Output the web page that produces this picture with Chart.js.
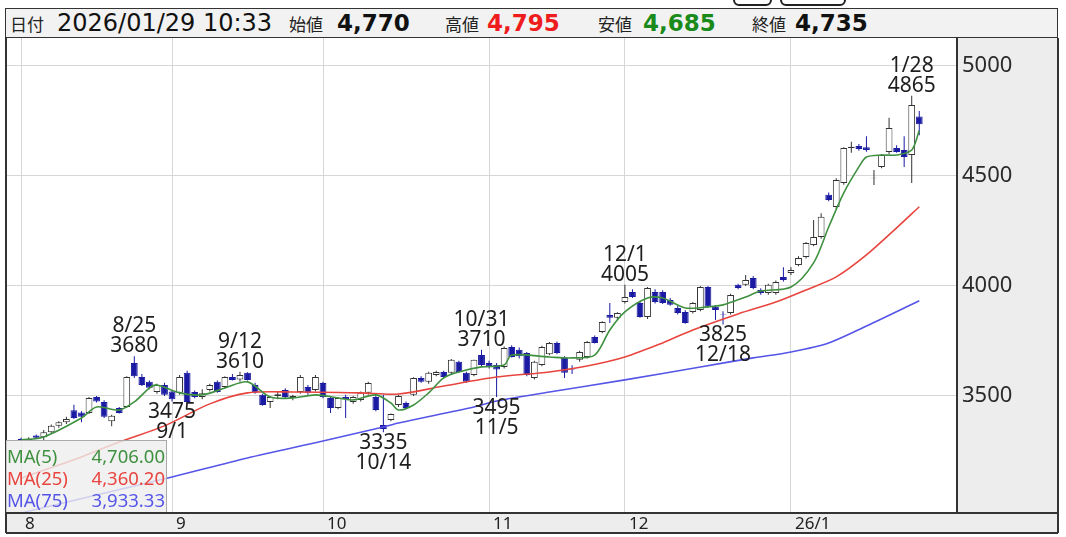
<!DOCTYPE html>
<html>
<head>
<meta charset="utf-8">
<script src="https://cdn.jsdelivr.net/npm/chart.js@4.4.1/dist/chart.umd.min.js"></script>
<style>
body { margin: 0; background: #fff; width: 1066px; height: 537px; overflow: hidden; position: relative; font-family: "Noto Sans", sans-serif; }
#chart { position: absolute; left: 0; top: 0; }
#hdr { position: absolute; left: 5px; top: 8px; width: 1051px; height: 28px; border: 1.5px solid #333; background: #f2f2f2; }
#hdr span { position: absolute; top: 0; line-height: 29px; white-space: nowrap; }
#hdr .k { font-family: "Noto Sans CJK JP", sans-serif; font-size: 17px; color: #222; }
#hdr .n { font-family: "DejaVu Sans", sans-serif; font-size: 24px; color: #111; }
#hdr .b { font-family: "DejaVu Sans", sans-serif; font-size: 23px; font-weight: bold; }
.tab { position: absolute; top: -9px; height: 11px; border: 2px solid #222; border-radius: 6px; background: #fff; }
#leg { position: absolute; left: 6px; top: 440px; width: 161px; height: 72px; padding-top: 4px; box-sizing: border-box; background: rgba(238,238,238,0.8); border-top: 1px solid #aaa; border-right: 1px solid #aaa; font-size: 18.5px; }
#leg div { position: relative; height: 22px; line-height: 22px; }
#leg .nm { position: absolute; left: 1px; }
#leg .vl { position: absolute; right: 1px; }
</style>
</head>
<body>
<canvas id="chart" width="1066" height="537"></canvas>
<div class="tab" style="left:733px;width:35px"></div>
<div class="tab" style="left:780px;width:62px"></div>
<div id="hdr">
  <span class="k" style="left:4px">日付</span>
  <span class="n" style="left:51px">2026/01/29 10:33</span>
  <span class="k" style="left:283px">始値</span>
  <span class="b" style="left:331px;color:#111">4,770</span>
  <span class="k" style="left:439px">高値</span>
  <span class="b" style="left:481px;color:#ee1c1c">4,795</span>
  <span class="k" style="left:592px">安値</span>
  <span class="b" style="left:637px;color:#1a8a1a">4,685</span>
  <span class="k" style="left:746px">終値</span>
  <span class="b" style="left:789px;color:#111">4,735</span>
</div>
<div id="leg"></div>
<script>
// 取引日 (2025/8 〜 2026/1)
const months = ['8', '9', '10', '11', '12', '1'];
const augDays = [1, 4, 5, 6, 7, 8, 12, 13, 14, 15, 18, 19, 20, 21, 22, 25, 26, 27, 28, 29];
const sepDays = [1, 2, 3, 4, 5, 8, 9, 10, 11, 12, 16, 17, 18, 19, 22, 24, 25, 26, 29, 30];
const octDays = [1, 2, 3, 6, 7, 8, 9, 10, 14, 15, 16, 17, 20, 21, 22, 23, 24, 27, 28, 29, 30, 31];
const novDays = [4, 5, 6, 7, 10, 11, 12, 13, 14, 17, 18, 19, 20, 21, 25, 26, 27, 28];
const decDays = [1, 2, 3, 4, 5, 8, 9, 10, 11, 12, 15, 16, 17, 18, 19, 22, 23, 24, 25, 26, 29, 30];
const janDays = [5, 6, 7, 8, 9, 13, 14, 15, 16, 19, 20, 21, 22, 23, 26, 27, 28, 29];
const monthTicks = ['8', '9', '10', '11', '12', '26/1'];
const padBefore = ['7/30', '7/31'];
const padAfter = ['1/30', '2/2', '2/3', '2/4', '2/5'];

const opens = [
  3305, 3300, 3320, 3312, 3335, 3365, 3380, 3435, 3425, 3423, 3495, 3473, 3385, 3445, 3450, 3650, 3586, 3564, 3518, 3550,
  3520, 3514, 3605, 3518, 3495, 3527, 3564, 3541, 3586, 3575, 3605, 3550, 3505, 3473, 3500, 3527, 3491, 3518, 3541, 3527,
  3559, 3491, 3445, 3495, 3473, 3482, 3514, 3495, 3368, 3391, 3459, 3468, 3505, 3582, 3564, 3595, 3609, 3605, 3655, 3605, 3595, 3686,
  3650, 3641, 3632, 3723, 3710, 3695, 3582, 3641, 3690, 3741, 3673, 3625, 3664, 3677, 3768, 3791, 3868, 3855,
  3927, 3973, 3923, 3859, 3973, 3973, 3936, 3900, 3882, 3882, 3891, 3995, 3905, 3873, 3877, 4005, 4005, 4036, 3982, 3968, 3968, 4041,
  4059, 4095, 4132, 4186, 4223, 4414, 4359, 4468, 4627, 4636, 4630, 4490, 4541, 4609, 4627, 4618, 4595, 4770
];
const highs = [
  3310, 3312, 3325, 3345, 3370, 3385, 3405, 3460, 3430, 3495, 3500, 3480, 3415, 3450, 3590, 3680, 3600, 3570, 3555, 3560,
  3525, 3595, 3615, 3525, 3530, 3555, 3570, 3590, 3600, 3610, 3608, 3560, 3510, 3500, 3520, 3535, 3505, 3595, 3550, 3595,
  3565, 3495, 3495, 3505, 3500, 3520, 3565, 3505, 3505, 3420, 3505, 3475, 3585, 3590, 3610, 3615, 3615, 3668, 3660, 3610, 3665, 3710,
  3660, 3650, 3725, 3730, 3720, 3700, 3660, 3728, 3745, 3748, 3680, 3640, 3705, 3750, 3775, 3840, 3923, 3880,
  4005, 3985, 3930, 3995, 3985, 3980, 3945, 3910, 3890, 3927, 4000, 4000, 3912, 3885, 3965, 4010, 4050, 4045, 3990, 4010, 4025, 4085,
  4085, 4135, 4200, 4300, 4330, 4425, 4490, 4630, 4655, 4645, 4680, 4527, 4600, 4764, 4640, 4680, 4865, 4795
];
const lows = [
  3298, 3295, 3305, 3300, 3330, 3355, 3372, 3395, 3380, 3418, 3470, 3400, 3362, 3420, 3445, 3582, 3545, 3530, 3510, 3500,
  3475, 3505, 3470, 3490, 3485, 3520, 3515, 3535, 3570, 3565, 3570, 3510, 3455, 3445, 3485, 3490, 3480, 3510, 3505, 3520,
  3490, 3423, 3440, 3400, 3465, 3475, 3505, 3430, 3335, 3385, 3450, 3440, 3500, 3560, 3555, 3590, 3580, 3600, 3605, 3560, 3590, 3635,
  3625, 3495, 3625, 3675, 3670, 3590, 3575, 3635, 3685, 3690, 3582, 3600, 3655, 3670, 3738, 3785, 3832, 3845,
  3920, 3945, 3855, 3850, 3920, 3918, 3910, 3870, 3828, 3875, 3885, 3900, 3845, 3825, 3870, 3985, 4000, 3985, 3960, 3960, 3960, 4020,
  4050, 4090, 4125, 4180, 4215, 4385, 4350, 4460, 4605, 4615, 4610, 4459, 4535, 4600, 4605, 4541, 4468, 4685
];
const closes = [
  3300, 3305, 3310, 3335, 3365, 3380, 3395, 3400, 3405, 3491, 3475, 3405, 3410, 3423, 3586, 3590, 3550, 3537, 3550, 3505,
  3485, 3586, 3473, 3495, 3512, 3550, 3518, 3586, 3573, 3595, 3573, 3514, 3459, 3495, 3508, 3495, 3500, 3586, 3514, 3586,
  3495, 3445, 3491, 3485, 3495, 3514, 3559, 3436, 3350, 3418, 3500, 3445, 3582, 3565, 3605, 3609, 3586, 3664, 3609, 3564, 3664, 3641,
  3635, 3620, 3718, 3677, 3680, 3595, 3655, 3723, 3741, 3695, 3605, 3620, 3700, 3745, 3741, 3836, 3855, 3877,
  3950, 3950, 3859, 3991, 3927, 3923, 3914, 3877, 3832, 3923, 3995, 3905, 3891, 3870, 3959, 3991, 4027, 3991, 3968, 4005, 4018, 4027,
  4073, 4127, 4195, 4223, 4314, 4391, 4482, 4627, 4633, 4622, 4618, 4492, 4595, 4718, 4609, 4586, 4823, 4735
];

// 移動平均 (取引日番号, 値) 画面から読み取り
const ma5 = [[0, 3300], [3, 3314], [8, 3400], [10, 3450], [13, 3436], [15, 3473], [17, 3536], [18, 3550], [21, 3514], [24, 3505],
  [27, 3536], [30, 3564], [33, 3495], [36, 3491], [39, 3505], [42, 3491], [44, 3482], [47, 3505], [49, 3468], [50, 3436],
  [52, 3459], [54, 3514], [56, 3582], [58, 3609], [61, 3632], [64, 3641], [65, 3686], [70, 3677], [73, 3673], [76, 3686],
  [78, 3800], [80, 3882], [83, 3945], [85, 3945], [88, 3900], [91, 3905], [93, 3914], [96, 3950], [98, 3977], [102, 3995],
  [105, 4105], [107, 4268], [109, 4423], [111, 4541], [112, 4586], [114, 4595], [116, 4595], [118, 4618], [119, 4706]];
const ma25 = [[0, 3127], [8, 3223], [13, 3291], [19, 3364], [25, 3464], [30, 3514], [36, 3518], [45, 3514], [50, 3509],
  [56, 3545], [63, 3586], [70, 3609], [75, 3636], [80, 3677], [85, 3741], [89, 3800], [95, 3873], [100, 3927], [104, 3982],
  [108, 4041], [112, 4141], [116, 4264], [119, 4360]];
const ma75 = [[0, 2968], [10, 3050], [20, 3132], [30, 3218], [40, 3295], [48, 3359], [50, 3377], [60, 3450], [63, 3477],
  [70, 3518], [80, 3573], [90, 3632], [97, 3673], [102, 3700], [107, 3741], [112, 3818], [119, 3933]];
const maNames = ['MA(5)', 'MA(25)', 'MA(75)'];
const maLast = ['4,706.00', '4,360.20', '3,933.33'];
const maColors = ['#3f9140', '#e8453f', '#5555e8'];

const yTicks = [3500, 4000, 4500, 5000];
const highMarks = ['8/25', '9/12', '10/31', '12/1', '1/28'];
const lowMarks = ['9/1', '10/14', '11/5', '12/18'];

const monthDays = [augDays, sepDays, octDays, novDays, decDays, janDays];
const dates = months.flatMap((m, k) => monthDays[k].map(d => m + '/' + d));
const labels = [...padBefore, ...dates, ...padAfter];
const monthIdx = months.map((m, k) => labels.indexOf(m + '/' + monthDays[k][0]));

const upColor = '#ffffff';
const downColor = '#1a1aa2';
const isUp = dates.map((d, i) => closes[i] >= opens[i]);

// 凡例
document.getElementById('leg').innerHTML = maNames.map((n, k) =>
  `<div style="color:${maColors[k]}"><span class="nm">${n}</span><span class="vl">${maLast[k]}</span></div>`).join('');

const panelPlugin = {
  id: 'panel',
  beforeDraw(chart) {
    const ctx = chart.ctx;
    const a = chart.chartArea;
    ctx.save();
    ctx.fillStyle = '#fff';
    ctx.fillRect(0, 0, 1066, 537);
    ctx.fillStyle = '#ededed';
    ctx.fillRect(a.right, a.top, 1058 - a.right, 533 - a.top);
    ctx.fillRect(6, a.bottom, 1058 - 6, 533 - a.bottom);
    ctx.restore();
  },
  afterDraw(chart) {
    const ctx = chart.ctx;
    const a = chart.chartArea;
    ctx.save();
    ctx.strokeStyle = '#333';
    ctx.lineWidth = 2;
    ctx.beginPath();
    ctx.moveTo(a.left, a.top); ctx.lineTo(a.left, 533);
    ctx.moveTo(a.right, a.top); ctx.lineTo(a.right, a.bottom);
    ctx.moveTo(1058, a.top); ctx.lineTo(1058, 533);
    ctx.moveTo(a.left, a.bottom); ctx.lineTo(1058, a.bottom);
    ctx.moveTo(a.left, 533); ctx.lineTo(1058, 533);
    ctx.stroke();
    ctx.restore();
  }
};

const hiloPlugin = {
  id: 'hilo',
  afterDatasetsDraw(chart) {
    const { ctx, scales: { x, y } } = chart;
    ctx.save();
    ctx.font = '21px "Noto Sans"';
    ctx.fillStyle = '#1e1e1e';
    ctx.textAlign = 'center';
    ctx.textBaseline = 'middle';
    highMarks.forEach(d => {
      const i = dates.indexOf(d);
      const px = x.getPixelForValue(labels.indexOf(d));
      const py = y.getPixelForValue(highs[i]);
      ctx.fillText(String(highs[i]), px, py - 10);
      ctx.fillText(d, px, py - 30);
    });
    lowMarks.forEach(d => {
      const i = dates.indexOf(d);
      const px = x.getPixelForValue(labels.indexOf(d));
      const py = y.getPixelForValue(lows[i]);
      ctx.fillText(String(lows[i]), px, py + 11);
      ctx.fillText(d, px, py + 31);
    });
    ctx.restore();
  }
};

const maLine = (pts, k) => ({
  type: 'line',
  data: pts.map(([i, v]) => ({ x: dates[i], y: v })),
  borderColor: maColors[k],
  borderWidth: 1.6,
  pointRadius: 0,
  tension: 0.3,
  spanGaps: true,
  order: 0
});

new Chart(document.getElementById('chart'), {
  type: 'bar',
  data: {
    labels: labels,
    datasets: [
      maLine(ma5, 0),
      maLine(ma25, 1),
      maLine(ma75, 2),
      {
        data: dates.map((d, i) => ({ x: d, y: [opens[i], closes[i]] })),
        backgroundColor: isUp.map(u => u ? upColor : downColor),
        borderColor: isUp.map(u => u ? '#333' : downColor),
        borderWidth: 1,
        borderSkipped: false,
        inflateAmount: 0,
        grouped: false,
        barPercentage: 1,
        categoryPercentage: 0.9,
        order: 1
      },
      {
        data: dates.map((d, i) => ({ x: d, y: [lows[i], highs[i]] })),
        backgroundColor: isUp.map(u => u ? '#333' : downColor),
        barThickness: 1,
        inflateAmount: 0,
        grouped: false,
        order: 2
      }
    ]
  },
  options: {
    responsive: false,
    animation: false,
    devicePixelRatio: 1,
    layout: { padding: { left: 6, right: 8, top: 38, bottom: 4 } },
    plugins: { legend: { display: false }, tooltip: { enabled: false } },
    scales: {
      x: {
        type: 'category',
        offset: false,
        afterBuildTicks: s => { s.ticks = monthIdx.map(v => ({ value: v })); },
        afterFit: s => { s.height = 20; },
        grid: { color: '#d6d6d6', drawTicks: false, offset: false },
        border: { display: false },
        ticks: {
          autoSkip: false,
          maxRotation: 0,
          align: 'start',
          labelOffset: 4,
          padding: 1,
          color: '#222',
          font: { family: 'Noto Sans', size: 17 },
          callback: (v, i) => monthTicks[i]
        }
      },
      y: {
        type: 'linear',
        position: 'right',
        min: 2968,
        max: 5127,
        afterBuildTicks: s => { s.ticks = yTicks.map(v => ({ value: v })); },
        afterFit: s => { s.width = 101; },
        grid: { color: '#d6d6d6', drawTicks: false },
        border: { display: false },
        ticks: {
          padding: 5,
          color: '#2a2a2a',
          font: { family: 'Noto Sans', size: 22 },
          callback: v => String(v)
        }
      }
    }
  },
  plugins: [panelPlugin, hiloPlugin]
});
</script>
</body>
</html>
